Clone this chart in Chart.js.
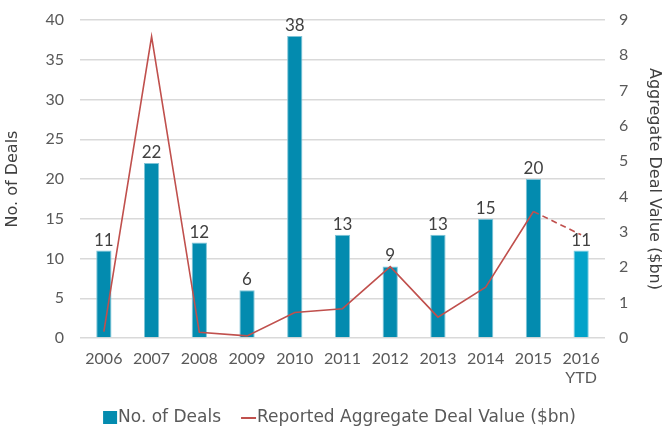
<!DOCTYPE html>
<html>
<head>
<meta charset="utf-8">
<script src="https://cdn.jsdelivr.net/npm/chart.js@4/dist/chart.umd.min.js"></script>
<style>
html,body{margin:0;padding:0;background:#fff;}
#wrap{width:666px;height:428px;position:relative;}
</style>
</head>
<body>
<div id="wrap"><canvas id="c" width="666" height="428"></canvas></div>
<script>
const categories = [["2006"],["2007"],["2008"],["2009"],["2010"],["2011"],["2012"],["2013"],["2014"],["2015"],["2016","YTD"]];
const dealCounts = [11, 22, 12, 6, 38, 13, 9, 13, 15, 20, 11];
const dealValues = [0.18, 8.53, 0.16, 0.06, 0.72, 0.83, 2.02, 0.59, 1.44, 3.58, 2.92];
const leftTicks = [0, 5, 10, 15, 20, 25, 30, 35, 40];
const rightTicks = [0, 1, 2, 3, 4, 5, 6, 7, 8, 9];
const seriesNames = ["No. of Deals", "Reported Aggregate Deal Value ($bn)"];

const NUMFONT = "Lato";
const TXTFONT = "DejaVu Sans";
const TXT = "#595959";
const BAR = "#038BAF";
const LINE = "#C0504D";
const barColors = dealCounts.map((v, i) => i === dealCounts.length - 1 ? "#02A2C9" : BAR);
const barBorders = dealCounts.map((v, i) => i === dealCounts.length - 1 ? "#7FD0E4" : "#7FC4D7");

const labelPlugin = {
  id: "barLabels",
  afterDatasetsDraw(chart) {
    const ctx = chart.ctx;
    const meta = chart.getDatasetMeta(1);
    ctx.save();
    ctx.font = "17px " + NUMFONT;
    ctx.fillStyle = "#404040";
    ctx.textAlign = "center";
    ctx.textBaseline = "bottom";
    meta.data.forEach((bar, i) => {
      ctx.fillText(String(dealCounts[i]), bar.x, bar.y - 2);
    });
    ctx.restore();
  }
};

const legendPlugin = {
  id: "customLegend",
  afterDraw(chart) {
    const ctx = chart.ctx;
    ctx.save();
    ctx.font = "17px " + TXTFONT;
    ctx.textBaseline = "middle";
    ctx.textAlign = "left";
    const w1 = ctx.measureText(seriesNames[0]).width;
    const w2 = ctx.measureText(seriesNames[1]).width;
    const sym = 15, gap = 20;
    const total = sym + w1 + gap + sym + w2;
    let x = 339 - total / 2;
    const y = 418;
    ctx.fillStyle = BAR;
    ctx.fillRect(x, y - 7, 14, 13);
    x += sym;
    ctx.fillStyle = TXT;
    ctx.fillText(seriesNames[0], x, y);
    x += w1 + gap;
    ctx.strokeStyle = LINE;
    ctx.lineWidth = 2;
    ctx.beginPath();
    ctx.moveTo(x, y);
    ctx.lineTo(x + sym, y);
    ctx.stroke();
    x += sym + 1;
    ctx.fillText(seriesNames[1], x, y);
    ctx.restore();
  }
};

function fitY(width) {
  return s => { s.width = width; s.paddingTop = 0; s.paddingBottom = 0; };
}

new Chart(document.getElementById("c"), {
  data: {
    labels: categories,
    datasets: [
      {
        type: "line",
        label: seriesNames[1],
        data: dealValues,
        yAxisID: "y1",
        borderColor: LINE,
        backgroundColor: LINE,
        borderWidth: 1.6,
        pointRadius: 0,
        tension: 0,
        order: 0,
        segment: {
          borderDash: ctx => ctx.p1DataIndex === dealValues.length - 1 ? [6, 4] : undefined
        }
      },
      {
        type: "bar",
        label: seriesNames[0],
        data: dealCounts,
        yAxisID: "y",
        backgroundColor: barColors,
        borderColor: barBorders,
        borderWidth: 1,
        barPercentage: 0.32,
        categoryPercentage: 1,
        order: 1
      }
    ]
  },
  options: {
    responsive: false,
    animation: false,
    layout: { padding: { top: 20, bottom: 40, left: 0, right: 0 } },
    plugins: {
      legend: { display: false },
      tooltip: { enabled: false }
    },
    scales: {
      x: {
        grid: { display: false },
        border: { display: false },
        afterFit: s => { s.height = 50; },
        ticks: { color: TXT, font: { family: NUMFONT, size: 16 }, maxRotation: 0, padding: 3 }
      },
      y: {
        position: "left",
        min: 0, max: 40,
        afterBuildTicks: s => { s.ticks = leftTicks.map(v => ({ value: v })); },
        afterFit: fitY(80),
        grid: { color: "#D9D9D9", lineWidth: 1.5, drawTicks: false },
        border: { display: false },
        ticks: { color: TXT, font: { family: NUMFONT, size: 16 }, padding: 16 },
        title: { display: true, text: seriesNames[0], color: "#404040", font: { family: TXTFONT, size: 16 }, padding: { top: 3, bottom: 0 } }
      },
      y1: {
        position: "right",
        min: 0, max: 9,
        afterBuildTicks: s => { s.ticks = rightTicks.map(v => ({ value: v })); },
        afterFit: fitY(61),
        grid: { display: false, drawTicks: false },
        border: { display: false },
        ticks: { color: TXT, font: { family: NUMFONT, size: 16 }, padding: 14 },
        title: { display: true, text: "Aggregate Deal Value ($bn)", color: "#404040", font: { family: TXTFONT, size: 16 }, padding: { top: 2, bottom: 0 } }
      }
    }
  },
  plugins: [labelPlugin, legendPlugin]
});
</script>
</body>
</html>
